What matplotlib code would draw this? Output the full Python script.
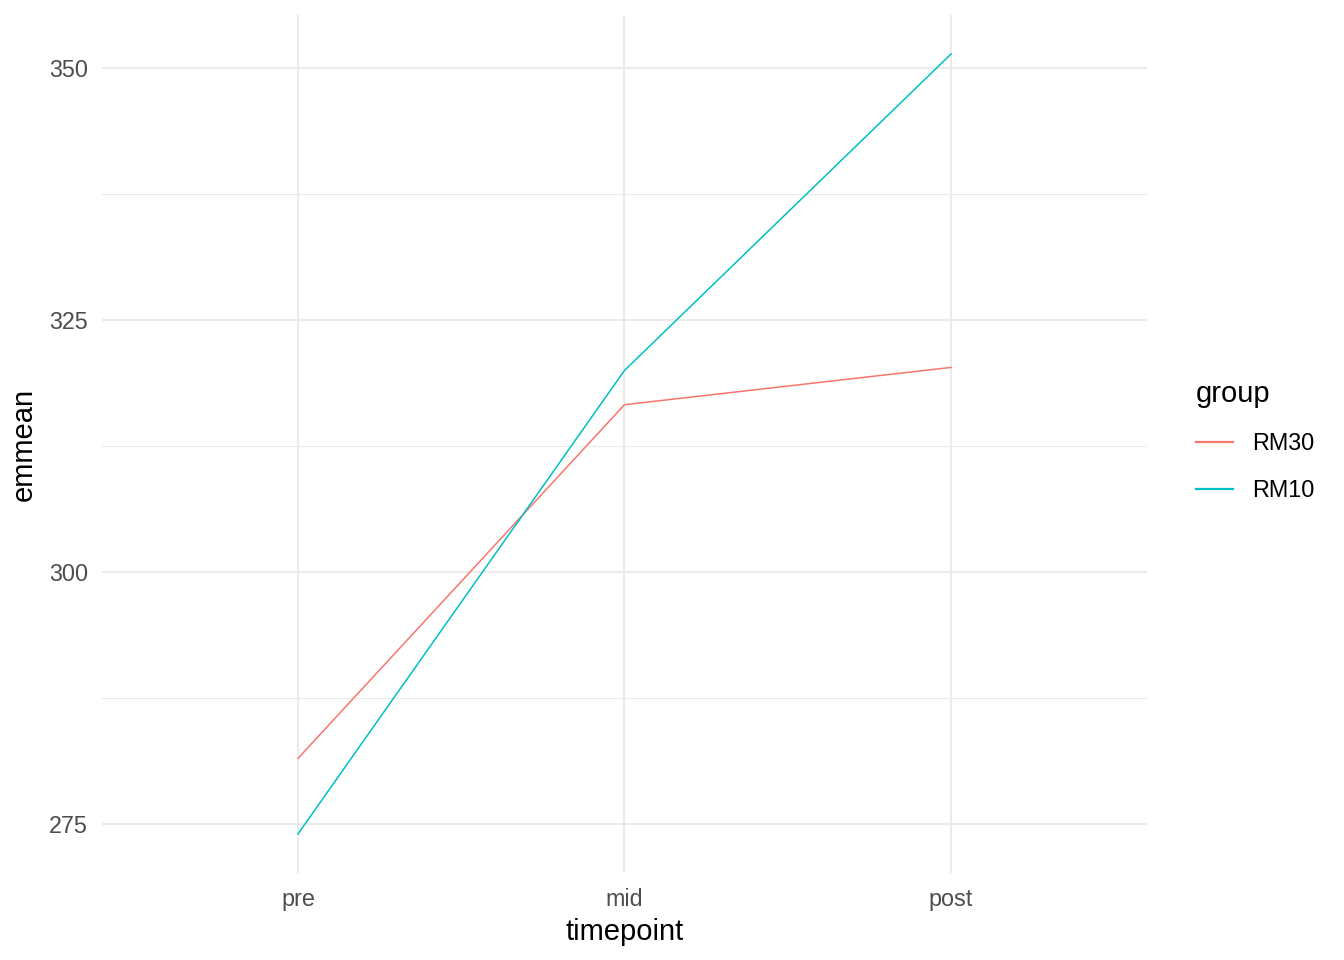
import numpy as np
import matplotlib.pyplot as plt
from matplotlib.ticker import MultipleLocator

plt.rcParams['font.family'] = ['Liberation Sans', 'DejaVu Sans']

timepoints = ["pre", "mid", "post"]
groups = ["RM30", "RM10"]
rm30 = [281.5, 316.6, 320.3]
rm10 = [274.0, 320.0, 351.4]
colors = {"RM30": "#F8766D", "RM10": "#00BFC4"}

fig = plt.figure(figsize=(13.44, 9.6), dpi=100)
ax = fig.add_axes([102 / 1344, 1 - 873 / 960, (1147 - 102) / 1344, (873 - 15) / 960])

x = np.arange(len(timepoints))
for name, vals in zip(groups, [rm30, rm10]):
    ax.plot(x, vals, color=colors[name], lw=1.1, label=name)

# ggplot style limits (discrete expand 0.6, continuous 5%)
ax.set_xlim(-0.6, len(timepoints) - 1 + 0.6)
lo = min(rm30 + rm10)
hi = max(rm30 + rm10)
pad = (hi - lo) * 0.05
ax.set_ylim(lo - pad, hi + pad)

ax.set_xticks(x)
ax.set_xticklabels(timepoints)
ax.yaxis.set_major_locator(MultipleLocator(25))
ax.yaxis.set_minor_locator(MultipleLocator(12.5))
ax.grid(which="major", color="#EBEBEB", lw=1.5)
ax.grid(which="minor", axis="y", color="#EBEBEB", lw=0.75)
ax.set_axisbelow(True)
for s in ax.spines.values():
    s.set_visible(False)
ax.tick_params(which="both", length=0)
ax.tick_params(axis="x", labelsize=16.8, labelcolor="#4D4D4D", pad=10.5)
ax.tick_params(axis="y", labelsize=16.8, labelcolor="#4D4D4D", pad=10)

ax.set_xlabel("timepoint", fontsize=21, labelpad=5)
ax.set_ylabel("emmean", fontsize=21, labelpad=8)

leg = fig.legend(loc="center left", bbox_to_anchor=(1175 / 1344, 1 - 441 / 960),
                 frameon=False, title="group", fontsize=16.8, title_fontsize=21,
                 handlelength=1.6, handletextpad=0.82, labelspacing=1.0,
                 alignment="left")
for h in leg.get_lines():
    h.set_linewidth(1.6)
leg._legend_box.sep = 17.5

fig.savefig("out.png", dpi=100)
